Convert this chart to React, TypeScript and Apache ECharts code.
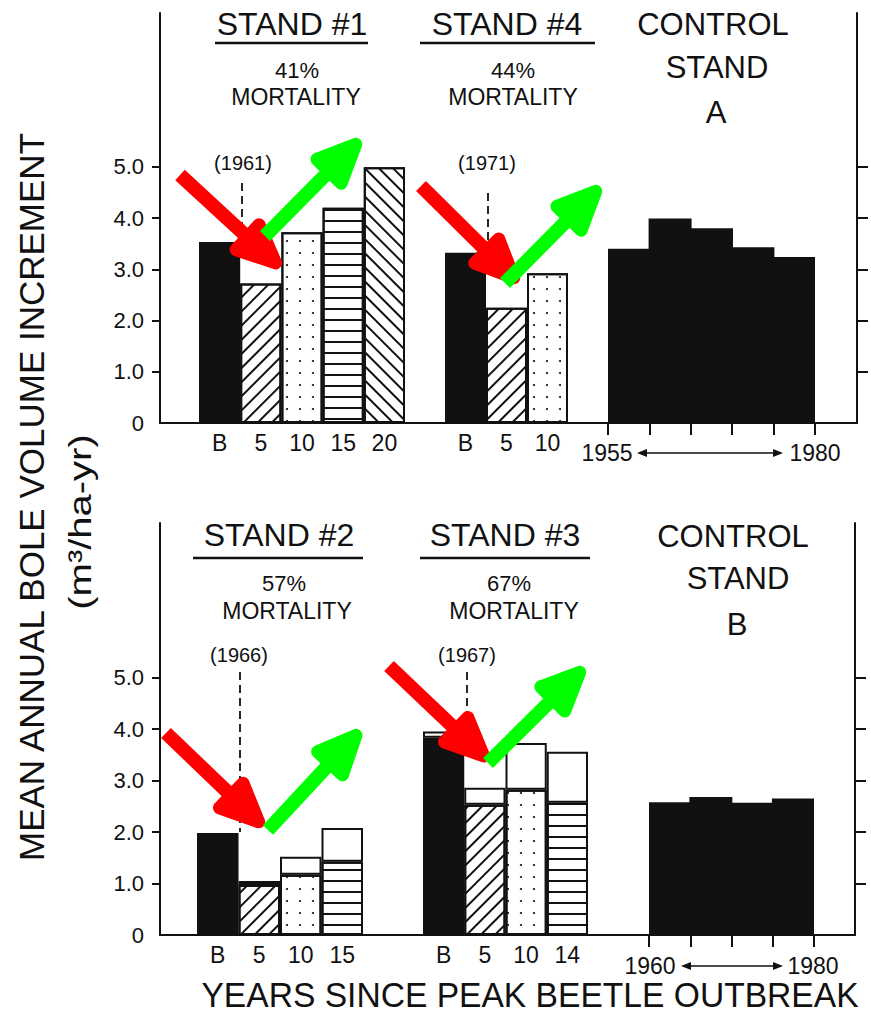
import React, { useEffect, useRef } from 'react';
import * as echarts from 'echarts';

// ---------------- data ----------------
const stand1Years = ['B', '5', '10', '15', '20'];
const stand1Lower = [3.53, 2.72, 3.72, 4.2, 4.99];
const stand1Total = [3.53, 2.72, 3.72, 4.2, 4.99];

const stand4Years = ['B', '5', '10'];
const stand4Lower = [3.32, 2.25, 2.92];
const stand4Total = [3.32, 2.25, 2.92];

const controlAYears = ['1955', '1960', '1965', '1970', '1975'];
const controlAValues = [3.4, 3.99, 3.8, 3.43, 3.24];

const stand2Years = ['B', '5', '10', '15'];
const stand2Lower = [1.98, 0.97, 1.17, 1.42];
const stand2Total = [1.98, 1.05, 1.52, 2.08];

const stand3Years = ['B', '5', '10', '14'];
const stand3Lower = [3.83, 2.53, 2.82, 2.57];
const stand3Total = [3.95, 2.86, 3.73, 3.56];

const controlBYears = ['1960', '1965', '1970', '1975'];
const controlBValues = [2.58, 2.68, 2.57, 2.65];

const yTickValues = [1, 2, 3, 4, 5];
const yLabelValues = [0, 1, 2, 3, 4, 5];

// ---------------- styles ----------------
const FONT = '"Liberation Sans", Arial, sans-serif';
const INK = '#111';
const RED = '#ff0000';
const GREEN = '#00ff00';

const PATTERN_ORDER = ['solid', 'hatchUp', 'dots', 'stripes', 'hatchDown'];
const DECALS: any = {
  hatchUp: { symbol: 'rect', symbolSize: 1, dashArrayX: [1, 0], dashArrayY: [2, 8], rotation: -Math.PI / 4, color: INK },
  hatchDown: { symbol: 'rect', symbolSize: 1, dashArrayX: [1, 0], dashArrayY: [2, 8], rotation: Math.PI / 4, color: INK },
  dots: { symbol: 'circle', symbolSize: 1, dashArrayX: [2, 11], dashArrayY: [2, 10], rotation: 0, color: INK },
  stripes: { symbol: 'rect', symbolSize: 1, dashArrayX: [1, 0], dashArrayY: [2, 9], rotation: 0, color: INK },
};

function patStyle(p: string) {
  if (p === 'solid') return { color: INK };
  return { color: '#fff', decal: DECALS[p] };
}

const axisLine = { show: true, onZero: false, lineStyle: { color: INK, width: 2 } };

function standSeries(g: number, lower: number[], total: number[]) {
  const lowerData = lower.map((v, i) => ({ value: v, itemStyle: patStyle(PATTERN_ORDER[i]) }));
  const upperData = total.map((t, i) => {
    const d = +(t - lower[i]).toFixed(2);
    return d > 0 ? d : '-';
  });
  return [
    {
      type: 'bar', xAxisIndex: g, yAxisIndex: g + 2, stack: 'st' + g, barCategoryGap: '0%',
      data: lowerData, itemStyle: { borderColor: INK, borderWidth: 2 }, silent: true,
    },
    {
      type: 'bar', xAxisIndex: g, yAxisIndex: g + 2, stack: 'st' + g, barCategoryGap: '0%',
      data: upperData, itemStyle: { color: '#fff', borderColor: INK, borderWidth: 2 }, silent: true,
    },
  ];
}

function controlSeries(g: number, values: number[]) {
  return {
    type: 'bar', xAxisIndex: g, yAxisIndex: g + 2, barWidth: 43, silent: true,
    data: values, itemStyle: { color: INK, borderWidth: 0 },
  };
}

function txt(text: string, x: number, y: number, size: number, extra: any = {}) {
  return {
    type: 'text', x, y, z: 50, ...extra,
    style: {
      text, fontSize: size, fontFamily: FONT, fill: INK,
      align: 'center', verticalAlign: 'middle', textAlign: 'center', textVerticalAlign: 'middle',
      ...(extra.style || {}),
    },
  };
}
function seg(x1: number, y1: number, x2: number, y2: number, w: number, dash?: number[]) {
  return {
    type: 'line', z: 40, shape: { x1, y1, x2, y2 },
    style: { stroke: INK, lineWidth: w, lineDash: dash || null },
  };
}
function bigArrow(sx: number, sy: number, tx: number, ty: number, color: string) {
  const dx = tx - sx, dy = ty - sy;
  const len = Math.hypot(dx, dy);
  const ux = dx / len, uy = dy / len;
  const nx = -uy, ny = ux;
  const back = 44, half = 17;
  const tipX = tx - ux * 6, tipY = ty - uy * 6;
  return [
    {
      type: 'line', z: 100, shape: { x1: sx, y1: sy, x2: tx - ux * 24, y2: ty - uy * 24 },
      style: { stroke: color, lineWidth: 14, lineCap: 'butt' },
    },
    {
      type: 'polygon', z: 100,
      shape: {
        points: [
          [tipX, tipY],
          [tx - ux * back + nx * half, ty - uy * back + ny * half],
          [tx - ux * back - nx * half, ty - uy * back - ny * half],
        ],
      },
      style: { fill: color, stroke: color, lineWidth: 13, lineJoin: 'round' },
    },
  ];
}
function rangeArrow(x1: number, x2: number, y: number) {
  return [
    seg(x1, y, x2, y, 1.5),
    { type: 'polygon', z: 40, shape: { points: [[x1 - 3, y], [x1 + 7, y - 4], [x1 + 7, y + 4]] }, style: { fill: INK } },
    { type: 'polygon', z: 40, shape: { points: [[x2 + 3, y], [x2 - 7, y - 4], [x2 - 7, y + 4]] }, style: { fill: INK } },
  ];
}

export default function App() {
  const ref = useRef<HTMLDivElement>(null);
  useEffect(() => {
    document.body.style.margin = '0';
    if (!ref.current) return;
    const chart = echarts.init(ref.current, null, { renderer: 'svg' });

    const grids = [
      { left: 160, top: 13, width: 697, height: 410 }, // top frame
      { left: 160, top: 523, width: 695, height: 412 }, // bottom frame
      { left: 199, top: 13, width: 206, height: 410 }, // stand 1
      { left: 445, top: 13, width: 123, height: 410 }, // stand 4
      { left: 608, top: 13, width: 207, height: 410 }, // control A
      { left: 197, top: 523, width: 166, height: 412 }, // stand 2
      { left: 423, top: 523, width: 165, height: 412 }, // stand 3
      { left: 649, top: 523, width: 165, height: 412 }, // control B
    ].map((g) => ({ ...g, containLabel: false, outerBoundsMode: 'none' }));

    const frameX = (gi: number) => ({
      type: 'value', gridIndex: gi, min: 0, max: 1, position: 'bottom',
      axisLine, axisTick: { show: false }, axisLabel: { show: false }, splitLine: { show: false },
    });
    const catLabel = { fontSize: 23, color: INK, margin: 8, fontFamily: FONT, interval: 0 };
    const standX = (gi: number, data: string[]) => ({
      type: 'category', gridIndex: gi, data, axisLine: { show: false }, axisTick: { show: false },
      axisLabel: catLabel, splitLine: { show: false },
    });
    const controlX = (gi: number, data: string[]) => ({
      type: 'category', gridIndex: gi, data, axisLine: { show: false },
      axisTick: { show: true, length: 12, inside: false, lineStyle: { color: INK, width: 2 } },
      axisLabel: { show: false }, splitLine: { show: false },
    });

    const leftY = (gi: number) => ({
      type: 'value', gridIndex: gi, position: 'left', min: 0, max: 8, interval: 1,
      axisLine,
      axisTick: { show: true, length: 8, customValues: yTickValues, lineStyle: { color: INK, width: 2 } },
      axisLabel: {
        customValues: yLabelValues, fontSize: 22, margin: 16, color: INK, fontFamily: FONT,
        formatter: (v: number) => (v === 0 ? '0' : v.toFixed(1)),
      },
      splitLine: { show: false },
    });
    const rightY = (gi: number) => ({
      type: 'value', gridIndex: gi, position: 'right', min: 0, max: 8, interval: 1,
      axisLine,
      axisTick: { show: true, length: 11, customValues: yTickValues, lineStyle: { color: INK, width: 2 } },
      axisLabel: { show: false }, splitLine: { show: false },
    });
    const hiddenY = (gi: number) => ({ type: 'value', gridIndex: gi, min: 0, max: 8, show: false, splitLine: { show: false } });

    const graphic: any[] = [
      // top row headers
      txt('STAND #1', 292, 24, 32),
      seg(215, 43, 368, 43, 2.5),
      txt('41%', 297, 70, 22),
      txt('MORTALITY', 296, 97, 23),
      txt('(1961)', 243, 163, 20),
      seg(242, 183, 242, 241, 1.8, [8, 5]),

      txt('STAND #4', 507, 24, 32),
      seg(420, 43, 595, 43, 2.5),
      txt('44%', 513, 70, 22),
      txt('MORTALITY', 513, 97, 23),
      txt('(1971)', 487, 163, 20),
      seg(488, 193, 488, 251, 1.8, [8, 5]),

      txt('CONTROL', 713, 24, 31),
      txt('STAND', 717, 67, 31),
      txt('A', 716, 112, 31),

      // bottom row headers
      txt('STAND #2', 279, 535, 32),
      seg(193, 558, 363, 558, 2.5),
      txt('57%', 284, 583, 22),
      txt('MORTALITY', 287, 611, 23),
      txt('(1966)', 239, 655, 20),
      seg(240, 672, 240, 832, 1.8, [8, 5]),

      txt('STAND #3', 505, 535, 32),
      seg(420, 558, 590, 558, 2.5),
      txt('67%', 509, 583, 22),
      txt('MORTALITY', 514, 611, 23),
      txt('(1967)', 467, 655, 20),
      seg(467, 672, 467, 731, 1.8, [8, 5]),

      txt('CONTROL', 733, 536, 31),
      txt('STAND', 738, 578, 31),
      txt('B', 737, 624, 31),

      // control year ranges
      txt('1955', 607, 453, 23),
      ...rangeArrow(640, 780, 453),
      txt('1980', 815, 453, 23),
      txt('1960', 650, 966, 23),
      ...rangeArrow(684, 780, 966),
      txt('1980', 813, 966, 23),

      // axis titles
      txt('MEAN ANNUAL BOLE VOLUME INCREMENT', 31, 497, 35, { rotation: Math.PI / 2 }),
      txt('(m³/ha-yr)', 80, 522, 32, { rotation: Math.PI / 2, scaleX: 1.25 }),
      txt('YEARS SINCE PEAK BEETLE OUTBREAK', 530, 995, 35, { scaleX: 0.96 }),

      // annotation arrows
      ...bigArrow(180, 175, 280, 267, RED),
      ...bigArrow(265, 236, 360, 140, GREEN),
      ...bigArrow(421, 186, 518, 282, RED),
      ...bigArrow(505, 283, 600, 187, GREEN),
      ...bigArrow(166, 733, 263, 826, RED),
      ...bigArrow(268, 830, 360, 731, GREEN),
      ...bigArrow(389, 666, 488, 760, RED),
      ...bigArrow(488, 763, 584, 668, GREEN),
    ];

    chart.setOption({
      animation: false,
      backgroundColor: '#fff',
      grid: grids,
      xAxis: [
        frameX(0), frameX(1),
        standX(2, stand1Years), standX(3, stand4Years), controlX(4, controlAYears),
        standX(5, stand2Years), standX(6, stand3Years), controlX(7, controlBYears),
      ],
      yAxis: [
        leftY(0), rightY(0), leftY(1), rightY(1),
        hiddenY(2), hiddenY(3), hiddenY(4), hiddenY(5), hiddenY(6), hiddenY(7),
      ],
      series: [
        ...standSeries(2, stand1Lower, stand1Total),
        ...standSeries(3, stand4Lower, stand4Total),
        controlSeries(4, controlAValues),
        ...standSeries(5, stand2Lower, stand2Total),
        ...standSeries(6, stand3Lower, stand3Total),
        controlSeries(7, controlBValues),
      ],
      graphic,
    });
    return () => chart.dispose();
  }, []);
  return <div ref={ref} style={{ width: 871, height: 1016 }} />;
}
